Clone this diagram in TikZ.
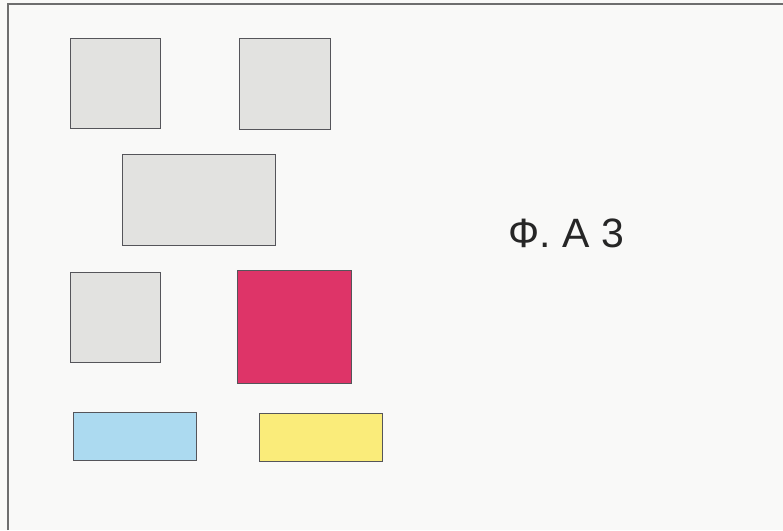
\documentclass[tikz,border=0pt]{standalone}
\usepackage{fontspec}
\setmainfont{Liberation Sans}
\definecolor{bgc}{RGB}{249,249,248}
\definecolor{framec}{RGB}{110,110,110}
\definecolor{grayfill}{RGB}{226,226,224}
\definecolor{boxline}{RGB}{85,85,90}
\definecolor{pinkfill}{RGB}{222,52,104}
\definecolor{bluefill}{RGB}{172,218,240}
\definecolor{yellowfill}{RGB}{250,236,122}
\begin{document}
\begin{tikzpicture}[x=1pt,y=-1pt,
  panel/.style={draw=boxline, line width=0.9pt, fill=grayfill},
  framestyle/.style={draw=framec, line width=1.2pt}]
\fill[bgc] (0,0) rectangle (783,530);
\useasboundingbox (0,0) rectangle (783,530);
\coordinate (fbl) at (8,530);
\coordinate (ftl) at (8,4);
\coordinate (ftr) at (783,4);
\draw[framestyle] (fbl) -- (ftl) -- (ftr);
\draw[panel] (70,38) rectangle (160,128);
\draw[panel] (239,38) rectangle (330,129);
\draw[panel] (122,154) rectangle (275,245);
\draw[panel] (70,272) rectangle (160,362);
\draw[panel, fill=pinkfill] (237,270) rectangle (351,383);
\draw[panel, fill=bluefill] (73,412) rectangle (196,460);
\draw[panel, fill=yellowfill] (259,413) rectangle (382,461);
\node[font=\fontsize{41}{46}\selectfont, text=black!85, inner sep=0pt, anchor=base] (label) at (566.5,247) {Ф. А 3};
\end{tikzpicture}
\end{document}
